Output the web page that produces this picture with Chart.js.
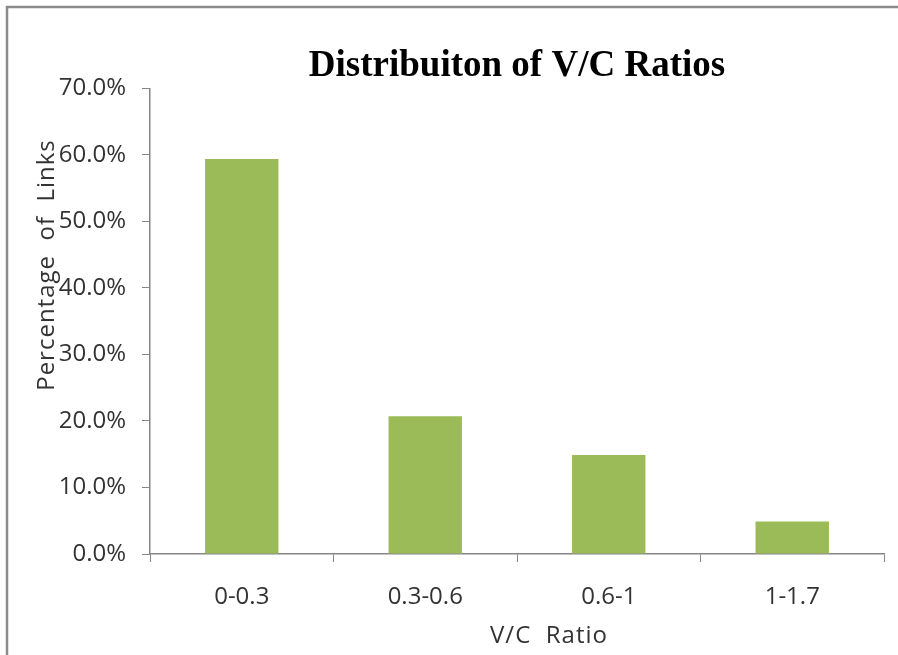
<!DOCTYPE html>
<html>
<head>
<meta charset="utf-8">
<script src="https://cdn.jsdelivr.net/npm/chart.js@4.4.1/dist/chart.umd.min.js"></script>
<style>
  body { margin: 0; background: #fff; }
  canvas { display: block; }
</style>
</head>
<body>
<canvas id="vc-chart" width="898" height="655"></canvas>
<script>
const categories = ['0-0.3', '0.3-0.6', '0.6-1', '1-1.7'];
const linkShares = [59.4, 20.7, 14.9, 4.9];
const yTickLabels = ['0.0%', '10.0%', '20.0%', '30.0%', '40.0%', '50.0%', '60.0%', '70.0%'];

const axisColor = '#868686';
const textColor = '#333333';

// frame + axis titles (Excel places them off-center, so draw them by hand)
const chartFrame = {
  id: 'chartFrame',
  beforeDraw(chart) {
    const ctx = chart.ctx;
    ctx.save();
    ctx.fillStyle = '#fff';
    ctx.fillRect(0, 0, chart.width, chart.height);
    ctx.strokeStyle = '#8c8c8c';
    ctx.lineWidth = 2.5;
    ctx.beginPath();
    ctx.moveTo(7, chart.height);
    ctx.lineTo(7, 7);
    ctx.lineTo(chart.width, 7);
    ctx.stroke();
    ctx.restore();
  },
  afterDraw(chart) {
    const ctx = chart.ctx;
    ctx.save();
    ctx.fillStyle = textColor;
    ctx.font = '24px "Open Sans"';
    ctx.letterSpacing = '1px';
    ctx.textAlign = 'center';
    ctx.textBaseline = 'middle';
    ctx.fillText('V/C  Ratio', 549, 636);
    ctx.translate(47, 265);
    ctx.rotate(-Math.PI / 2);
    ctx.fillText('Percentage  of  Links', 0, 0);
    ctx.restore();
  }
};

new Chart(document.getElementById('vc-chart'), {
  type: 'bar',
  data: {
    labels: categories,
    datasets: [{
      label: 'Percentage of Links',
      data: linkShares,
      backgroundColor: '#9BBB59',
      barPercentage: 0.4,
      categoryPercentage: 1.0
    }]
  },
  plugins: [chartFrame],
  options: {
    responsive: false,
    animation: false,
    layout: {
      padding: { top: 44, right: 14, bottom: 0, left: 0 }
    },
    plugins: {
      legend: { display: false },
      tooltip: { enabled: false },
      title: {
        display: true,
        fullSize: false,
        text: 'Distribuiton of V/C Ratios',
        color: '#000',
        font: { family: '"Liberation Serif", "Times New Roman", serif', size: 37, weight: 'bold' },
        padding: { top: 0, bottom: 0 }
      }
    },
    scales: {
      x: {
        grid: { display: true, drawOnChartArea: false, drawTicks: true, tickLength: 8, color: axisColor },
        border: { display: true, color: axisColor, width: 1.5 },
        ticks: {
          color: textColor,
          padding: 21,
          font: { family: '"Open Sans"', size: 24 }
        },
        afterFit(scale) { scale.height = 101; }
      },
      y: {
        min: 0,
        max: 70,
        grid: { display: true, drawOnChartArea: false, drawTicks: true, tickLength: 8, color: axisColor },
        border: { display: true, color: axisColor, width: 1.5 },
        ticks: {
          stepSize: 10,
          color: textColor,
          padding: 16,
          font: { family: '"Open Sans"', size: 24 },
          callback: (value, index) => yTickLabels[index]
        },
        afterFit(scale) { scale.width = 150; }
      }
    }
  }
});
</script>
</body>
</html>
